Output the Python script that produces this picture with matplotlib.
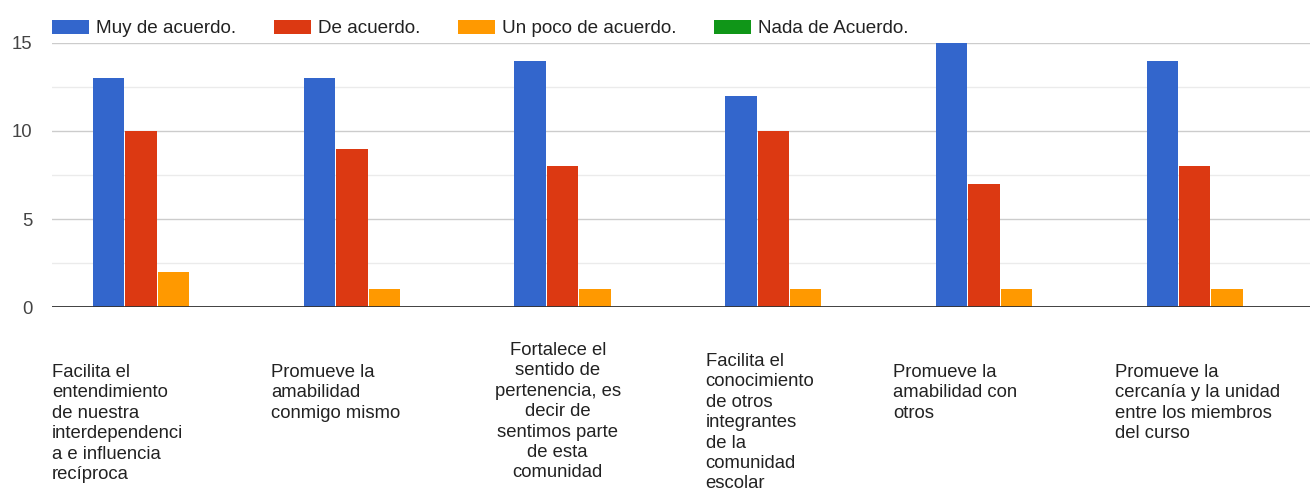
import matplotlib
matplotlib.use("Agg")
import matplotlib.pyplot as plt
import numpy as np
from matplotlib.patches import Patch

plt.rcParams['font.family'] = ['Liberation Sans', 'DejaVu Sans']

categories = [
    "Facilita el\nentendimiento\nde nuestra\ninterdependenci\na e influencia\nrecíproca",
    "Promueve la\namabilidad\nconmigo mismo",
    "Fortalece el\nsentido de\npertenencia, es\ndecir de\nsentimos parte\nde esta\ncomunidad",
    "Facilita el\nconocimiento\nde otros\nintegrantes\nde la\ncomunidad\nescolar",
    "Promueve la\namabilidad con\notros",
    "Promueve la\ncercanía y la unidad\nentre los miembros\ndel curso",
]
series_names = ["Muy de acuerdo.", "De acuerdo.", "Un poco de acuerdo.", "Nada de Acuerdo."]
muy_de_acuerdo = [13, 13, 14, 12, 15, 14]
de_acuerdo = [10, 9, 8, 10, 7, 8]
un_poco = [2, 1, 1, 1, 1, 1]
nada = [0, 0, 0, 0, 0, 0]
yticks = [0, 5, 10, 15]

colors = ["#3366cc", "#dc3912", "#ff9900", "#109618"]

# label layout: (x offset from group center, horizontal alignment, top offset px below axis)
label_layout = [(-0.50, 'left', 57), (-0.459, 'left', 57), (-0.10, 'center', 35),
                (-0.398, 'left', 46), (-0.51, 'left', 57), (-0.456, 'left', 57)]

W, H = 1310, 494
fig = plt.figure(figsize=(W / 100, H / 100), dpi=100)
ax = fig.add_axes([52 / W, (H - 307) / H, (W - 52) / W, (307 - 43) / H])

x = np.arange(len(categories))
step = 0.154
width = 0.149
all_series = [muy_de_acuerdo, de_acuerdo, un_poco, nada]
for k, vals in enumerate(all_series):
    ax.bar(x + (k - 1.5) * step, vals, width=width, color=colors[k], zorder=3, linewidth=0)

ax.set_ylim(0, 15)
ax.set_xlim(-0.5, 5.47)
ax.set_yticks(yticks)
ax.set_yticks([2.5, 7.5, 12.5], minor=True)
ax.tick_params(axis='y', which='both', length=0, pad=14, labelsize=13.3, labelcolor='#444444')
ax.set_xticks([])
for s in ax.spines.values():
    s.set_visible(False)
ax.grid(axis='y', which='major', color='#cccccc', linewidth=1, zorder=0)
ax.grid(axis='y', which='minor', color='#ebebeb', linewidth=1, zorder=0)
ax.axhline(0, color='#333333', linewidth=1.3, zorder=4)

for i, (label, (dx, ha, off)) in enumerate(zip(categories, label_layout)):
    ax.annotate(label, xy=(i + dx, 0), xycoords='data', xytext=(0, -off),
                textcoords='offset pixels', ha=ha, va='top', fontsize=13.3,
                color='#222222', linespacing=1.26, multialignment=ha, annotation_clip=False)

handles = [Patch(facecolor=c, edgecolor='none') for c in colors]
fig.legend(handles, series_names, loc='center left', bbox_to_anchor=(52 / W, 1 - 28.5 / H),
           ncol=4, frameon=False, fontsize=13.6, handlelength=1.95, handleheight=0.8,
           handletextpad=0.38, columnspacing=2.0, labelcolor='#222222', borderaxespad=0, borderpad=0)

fig.savefig("out.png", dpi=100)
